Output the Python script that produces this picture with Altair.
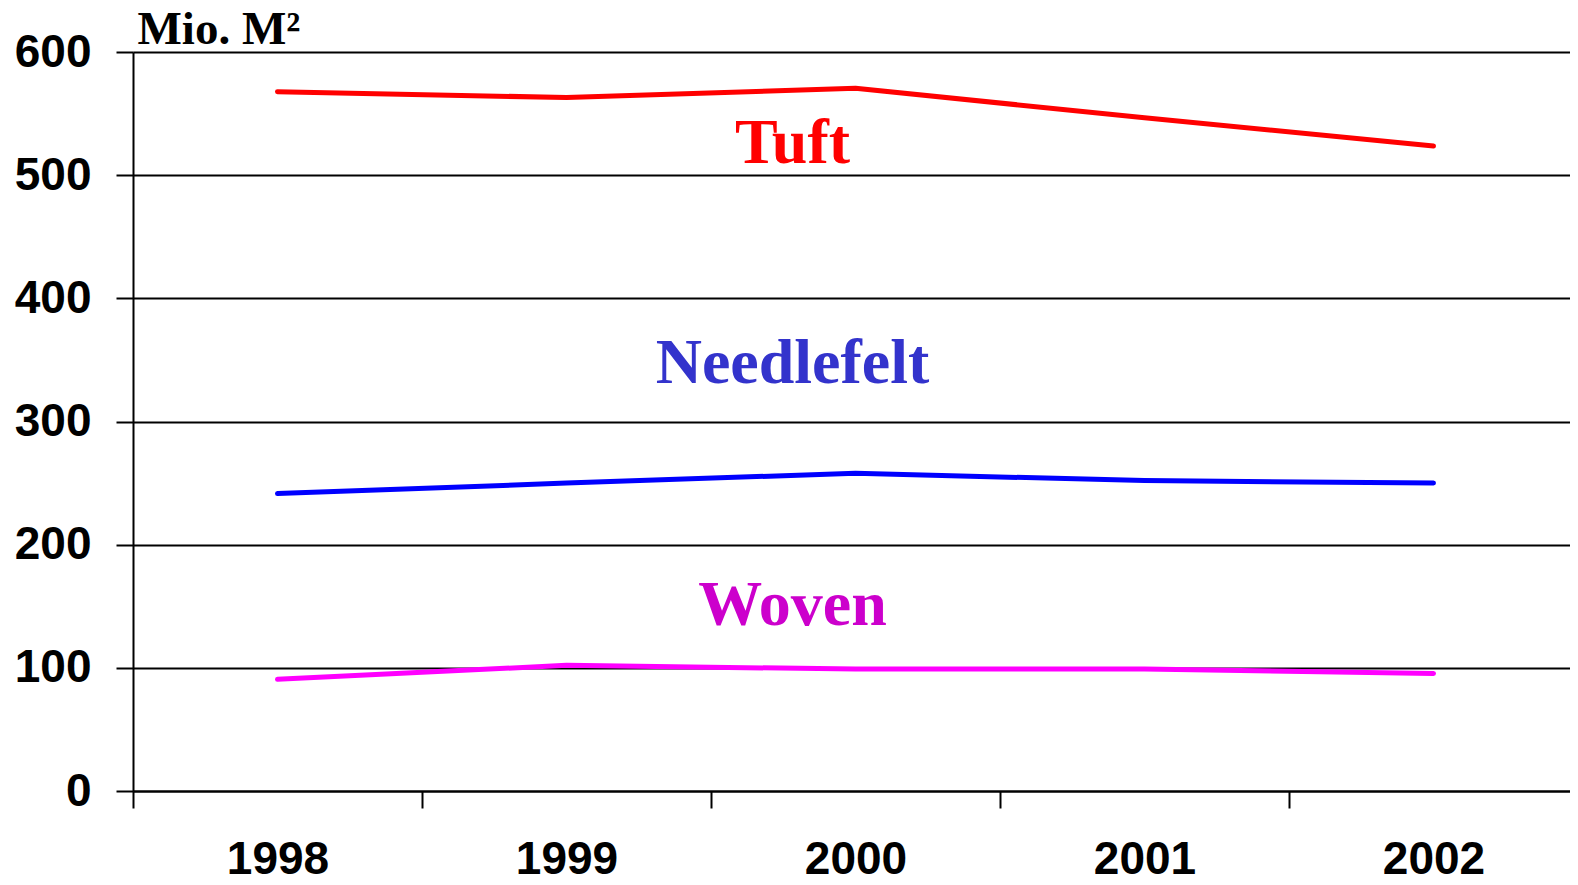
import altair as alt
import pandas as pd

years = ["1998", "1999", "2000", "2001", "2002"]
tuft = [567.8, 563.0, 570.5, 546.6, 523.6]
needlefelt = [241.5, 250.0, 258.0, 252.0, 250.0]
woven = [90.7, 102.0, 99.0, 99.0, 95.5]

series_names = ["Tuft", "Needlefelt", "Woven"]
line_colors = ["#FF0000", "#0000FF", "#FF00FF"]
text_colors = ["#FF0000", "#3333CC", "#CC00CC"]
label_year = ["2000", "2000", "2000"]
label_value = [510, 331, 135]
y_ticks = [0, 100, 200, 300, 400, 500, 600]

rows = []
for name, vals in zip(series_names, [tuft, needlefelt, woven]):
    for yr, v in zip(years, vals):
        rows.append({"year": yr, "value": v, "series": name})
lines_df = pd.DataFrame(rows)
labels_df = pd.DataFrame({"year": label_year, "value": label_value, "label": series_names})

x_scale = alt.Scale(type="band", domain=years, paddingInner=0, paddingOuter=0)
y_scale = alt.Scale(domain=[0, 600], nice=False, zero=True)

x_axis = alt.Axis(
    title=None, labelAngle=0, grid=False, tickBand="extent",
    domain=True, domainColor="black", domainWidth=2,
    ticks=True, tickColor="black", tickWidth=2, tickSize=17,
    labelFont="Liberation Sans", labelFontWeight="bold", labelFontSize=46,
    labelColor="black", labelBaseline="alphabetic", labelPadding=65,
)
y_axis = alt.Axis(
    values=y_ticks, grid=True, gridColor="black", gridWidth=2, gridOpacity=1,
    domain=True, domainColor="black", domainWidth=2,
    ticks=True, tickColor="black", tickWidth=2, tickSize=17,
    labelFont="Liberation Sans", labelFontWeight="bold", labelFontSize=46,
    labelColor="black", labelPadding=25, labelBaseline="middle",
    title="Mio. M²", titleAngle=0, titleAlign="left", titleBaseline="alphabetic",
    titleX=4, titleY=-9, titleFont="Liberation Serif", titleFontSize=47,
    titleFontWeight="bold", titleColor="black",
)

lines = alt.Chart(lines_df).mark_line(strokeWidth=5, strokeCap="round", strokeJoin="round").encode(
    x=alt.X("year:O", scale=x_scale, axis=x_axis, bandPosition=0.5),
    y=alt.Y("value:Q", scale=y_scale, axis=y_axis),
    color=alt.Color("series:N", scale=alt.Scale(domain=series_names, range=line_colors), legend=None),
    detail="series:N",
)

texts = alt.Chart(labels_df).mark_text(
    font="Liberation Serif", fontWeight="bold", fontSize=64,
    align="center", baseline="alphabetic", dx=-63,
).encode(
    x=alt.X("year:O", scale=x_scale, bandPosition=0.5),
    y=alt.Y("value:Q", scale=y_scale),
    text="label:N",
    color=alt.Color("label:N", scale=alt.Scale(domain=series_names, range=text_colors), legend=None),
)

chart = alt.layer(lines, texts).resolve_scale(color="independent").properties(
    width=1445, height=739,
    autosize=alt.AutoSizeParams(type="none"),
    padding={"left": 125, "top": 44, "right": -8, "bottom": 83},
).configure_view(strokeWidth=0).configure(background="white")

chart.save("out.html", embed_options={"renderer": "svg", "actions": False})
